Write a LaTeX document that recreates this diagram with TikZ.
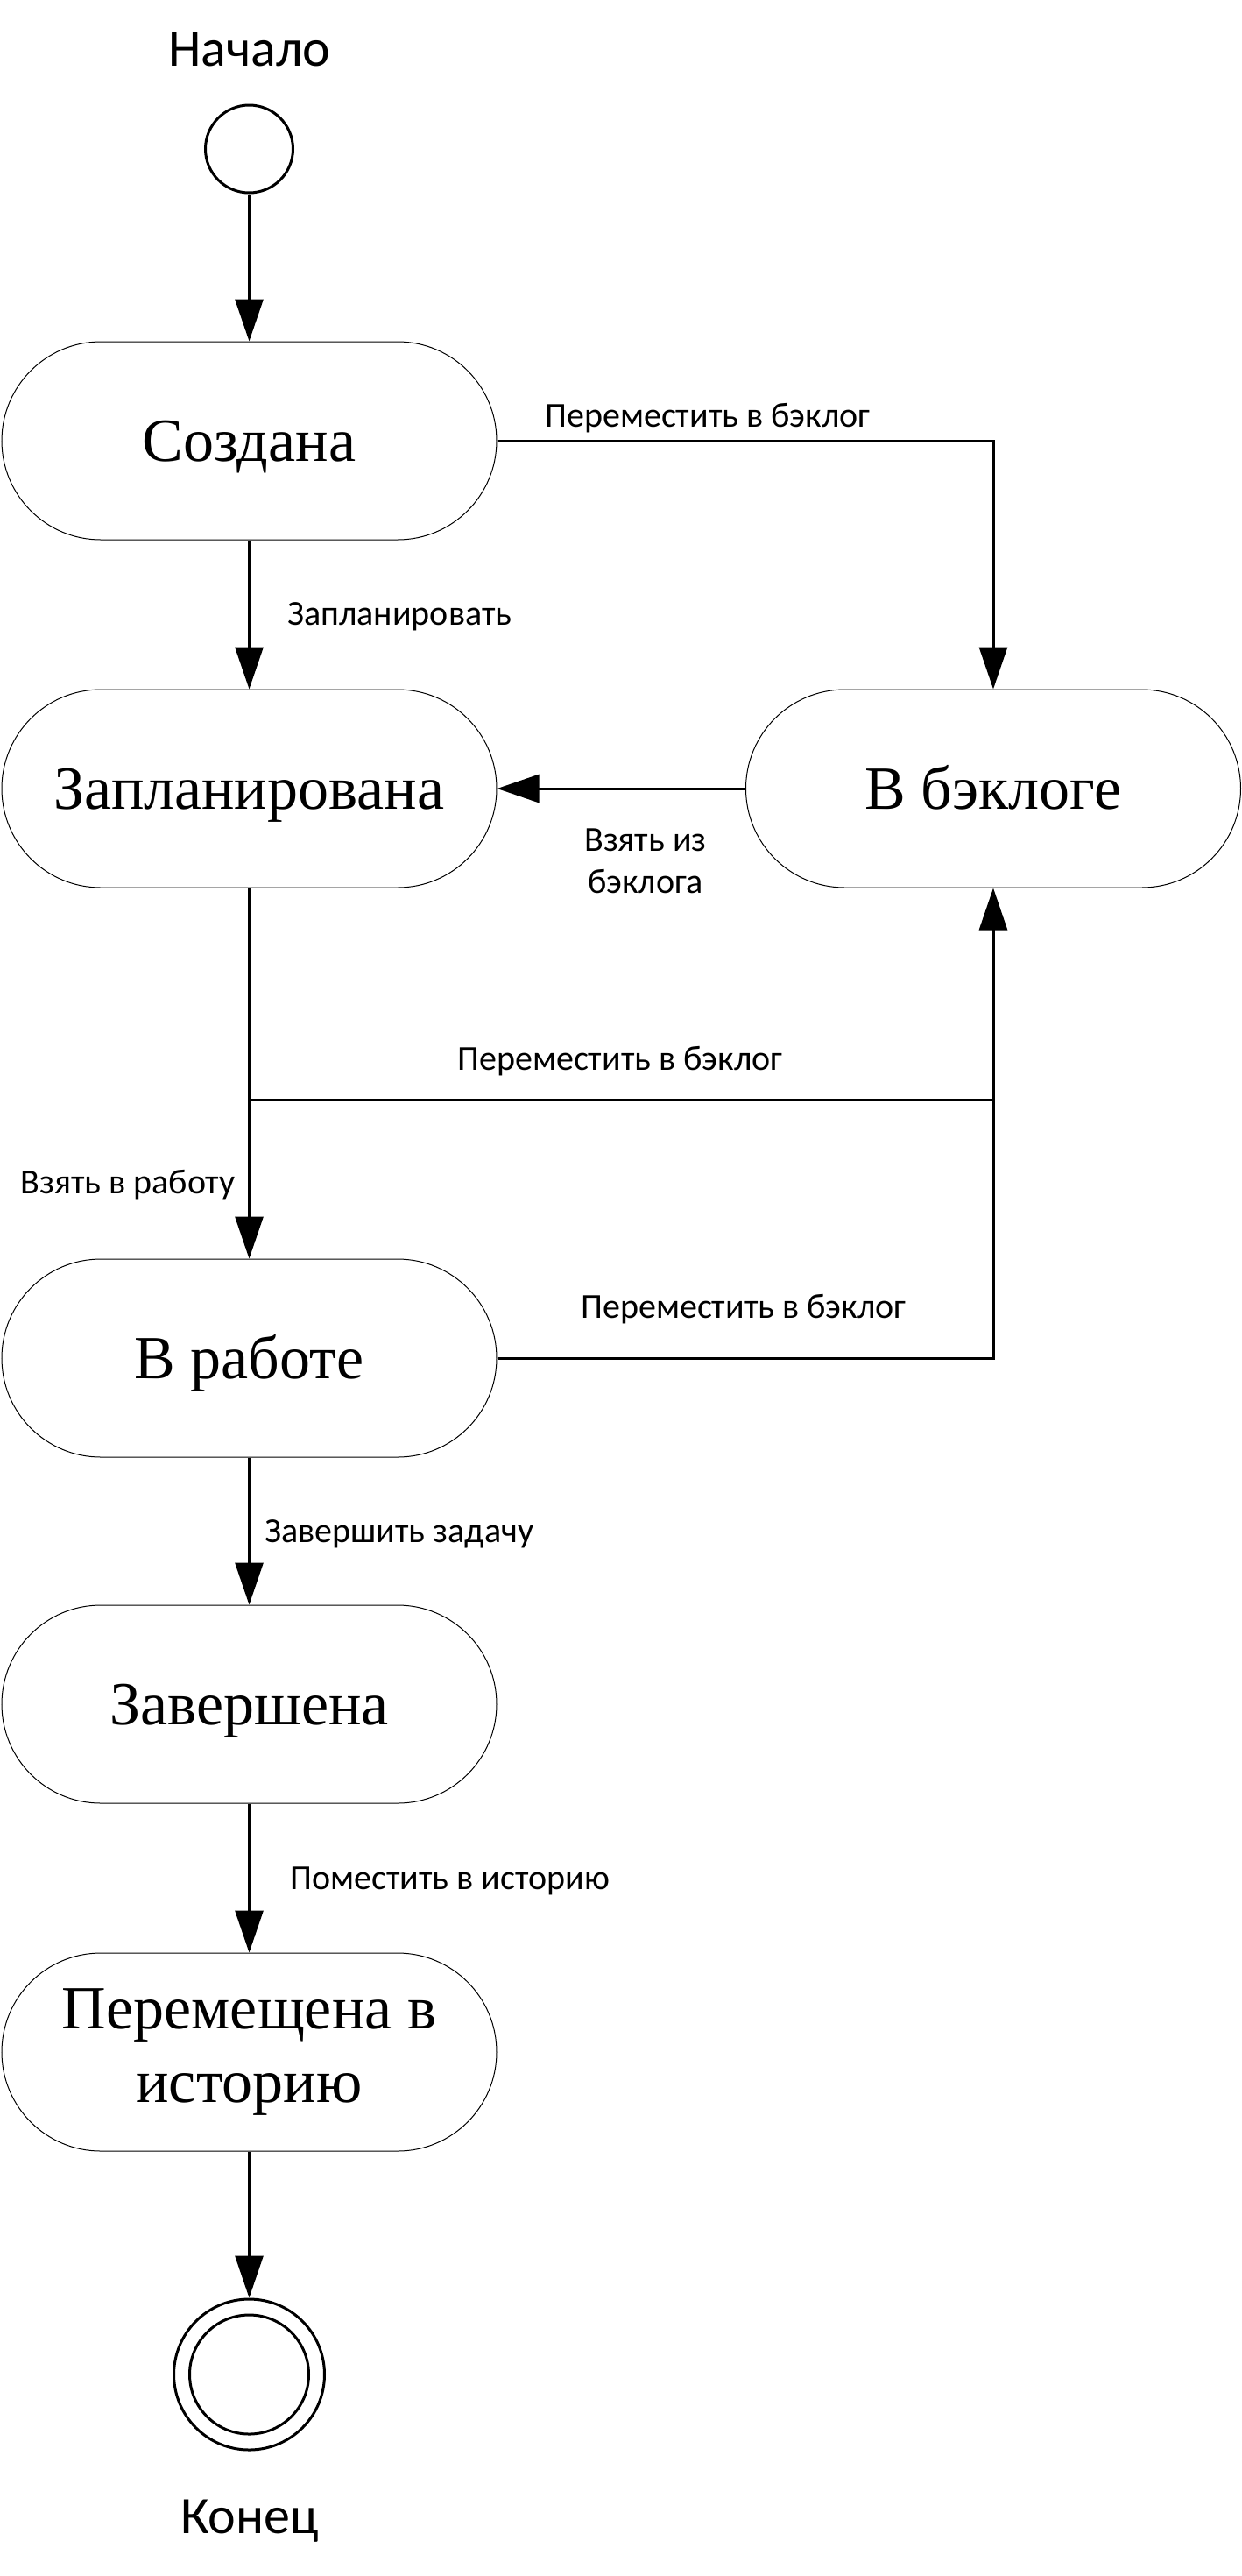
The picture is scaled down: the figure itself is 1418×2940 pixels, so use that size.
\documentclass[tikz,border=0pt]{standalone}
\usepackage{fontspec}
\setmainfont{Liberation Serif}
\newfontfamily\lblfont{Carlito}
\usetikzlibrary{arrows.meta}
\begin{document}
\begin{tikzpicture}[x=0.5pt,y=-0.5pt,
  state/.style={draw, line width=0.5pt, minimum width=282.5pt, minimum height=113pt,
    rounded corners=56.5pt, inner sep=0pt, align=center,
    font=\fontsize{35}{42}\selectfont},
  oneline/.style={text height=23pt, text depth=0pt},
  conn/.style={line width=1.5pt, -{Triangle[length=24pt,width=16pt]}},
  wire/.style={line width=1.5pt},
  lbl/.style={inner sep=0pt, font=\lblfont\fontsize{20}{24}\selectfont, align=center},
  big/.style={inner sep=0pt, font=\lblfont\fontsize{30}{36}\selectfont},
  initst/.style={circle, draw, line width=1.5pt, inner sep=0pt}]
\useasboundingbox (0,0) rectangle (1418,2940);

% states
\node[state, oneline] (sozd) at (284.5,503) {Создана};
\node[state, oneline] (zapl) at (284.5,900) {Запланирована};
\node[state, oneline] (back) at (1134,900) {В бэклоге};
\node[state, oneline] (work) at (284.5,1550) {В работе};
\node[state, oneline] (done) at (284.5,1945) {Завершена};
\node[state] (hist) at (284.5,2342) {Перемещена в\\историю};

% start and end
\node[initst, minimum size=50pt] (start) at (284.5,170) {};
\node[initst, minimum size=86pt] (fin) at (284.5,2710) {};
\node[initst, minimum size=68pt] (fininner) at (fin.center) {};
\node[big, anchor=base] (tstart) at (285,75) {Начало};
\node[big, anchor=base] (tend) at (285,2891) {Конец};

% junction coordinates
\coordinate (ja) at (284.5,1255);
\coordinate (jb) at (1134,1255);

% connectors
\draw[conn] (start) -- (sozd);
\draw[conn] (sozd) -- (zapl);
\draw[conn] (sozd.east) -| (back.north);
\draw[conn] (back.west) -- (zapl.east);
\draw[conn] (zapl) -- (work);
\draw[wire] (ja) -- (jb);
\draw[conn] (work.east) -| (back.south);
\draw[conn] (work) -- (done);
\draw[conn] (done) -- (hist);
\draw[conn] (hist) -- (fin);

% labels
\node[lbl, anchor=base] (l1) at (808,487) {Переместить в бэклог};
\node[lbl, anchor=base west] (l2) at (328,713) {Запланировать};
\node[lbl] (l3) at (737,983) {Взять из\\бэклога};
\node[lbl, anchor=base] (l4) at (708,1221) {Переместить в бэклог};
\node[lbl, anchor=base west] (l5) at (23,1362) {Взять в работу};
\node[lbl, anchor=base] (l6) at (849,1504) {Переместить в бэклог};
\node[lbl, anchor=base west] (l7) at (302,1760) {Завершить задачу};
\node[lbl, anchor=base west] (l8) at (331,2156) {Поместить в историю};
\end{tikzpicture}
\end{document}
